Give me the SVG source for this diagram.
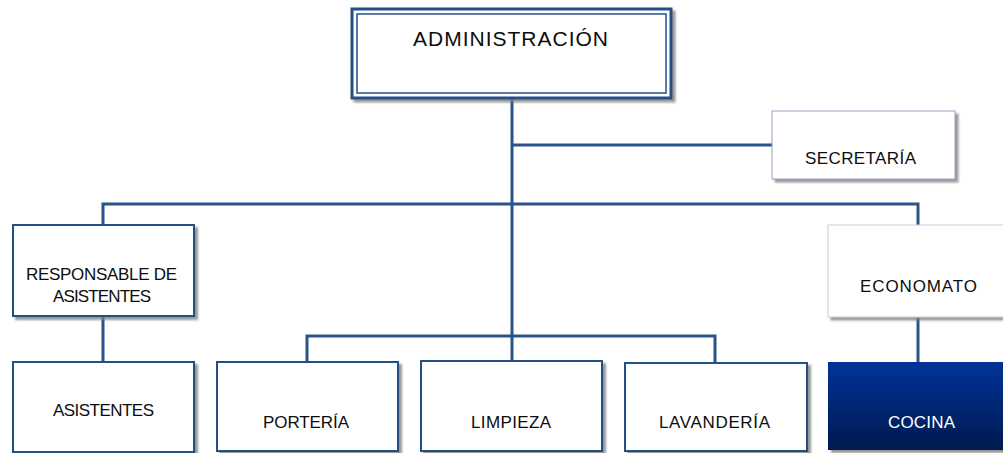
<svg xmlns="http://www.w3.org/2000/svg" width="1003" height="453" viewBox="0 0 1003 453">
<defs>
<filter id="sh" x="-10%" y="-10%" width="130%" height="140%">
<feDropShadow dx="3" dy="3" stdDeviation="1.2" flood-color="#7f7f7f" flood-opacity="0.8"/>
</filter>
<linearGradient id="navy" x1="0" y1="0" x2="0" y2="1">
<stop offset="0" stop-color="#003399"/>
<stop offset="1" stop-color="#001a4f"/>
</linearGradient>
<style>
.box{fill:#ffffff;stroke:#244f86;stroke-width:2;filter:url(#sh)}
.lbl{font-family:"Liberation Sans",Arial,sans-serif;font-size:17px;fill:#0d0d0d;text-anchor:middle}
.con{fill:none;stroke:#2a538a;stroke-width:3}
</style>
</defs>
<rect width="1003" height="453" fill="#ffffff"/>
<g id="connectors">
<path class="con" d="M512,98 V361"/>
<path class="con" d="M512,145 H772"/>
<path class="con" d="M103,225 V204 H918 V225"/>
<path class="con" d="M103,316 V362"/>
<path class="con" d="M307,361 V336 H715 V363"/>
<path class="con" d="M918,317 V362"/>
</g>
<g id="administracion">
<rect x="352" y="9" width="319" height="89" fill="#ffffff" stroke="#244f86" stroke-width="3" filter="url(#sh)"/>
<rect x="357" y="14" width="309" height="79" fill="none" stroke="#244f86" stroke-width="1.5"/>
<text class="lbl" x="510.5" y="46" style="font-size:21px" textLength="195" lengthAdjust="spacing">ADMINISTRACIÓN</text>
</g>
<g id="secretaria">
<rect x="772" y="111" width="183" height="68" fill="#ffffff" stroke="#8fa3bf" stroke-width="1" filter="url(#sh)"/>
<text class="lbl" x="860.5" y="164" textLength="111" lengthAdjust="spacing">SECRETARÍA</text>
</g>
<g id="responsable">
<rect class="box" x="13" y="225" width="181" height="91"/>
<text class="lbl" x="101.5" y="280" textLength="151" lengthAdjust="spacing">RESPONSABLE DE</text>
<text class="lbl" x="102" y="302" textLength="98" lengthAdjust="spacing">ASISTENTES</text>
</g>
<g id="economato">
<rect x="828" y="225" width="185" height="92" fill="#ffffff" stroke="#c5cfdc" stroke-width="1" filter="url(#sh)"/>
<text class="lbl" x="918.5" y="292" textLength="117" lengthAdjust="spacing">ECONOMATO</text>
</g>
<g id="asistentes">
<rect class="box" x="13" y="362" width="181" height="90"/>
<text class="lbl" x="103.5" y="416" textLength="101" lengthAdjust="spacing">ASISTENTES</text>
</g>
<g id="porteria">
<rect class="box" x="217" y="362" width="181" height="89"/>
<text class="lbl" x="306" y="428" textLength="86" lengthAdjust="spacing">PORTERÍA</text>
</g>
<g id="limpieza">
<rect class="box" x="421" y="361" width="181" height="90"/>
<text class="lbl" x="511" y="428" textLength="80" lengthAdjust="spacing">LIMPIEZA</text>
</g>
<g id="lavanderia">
<rect class="box" x="625" y="363" width="182" height="88"/>
<text class="lbl" x="714.5" y="428" textLength="111" lengthAdjust="spacing">LAVANDERÍA</text>
</g>
<g id="cocina">
<rect x="828" y="362" width="185" height="88" fill="url(#navy)" filter="url(#sh)"/>
<text class="lbl" x="921.5" y="428" style="fill:#ffffff" textLength="67" lengthAdjust="spacing">COCINA</text>
</g>
</svg>
